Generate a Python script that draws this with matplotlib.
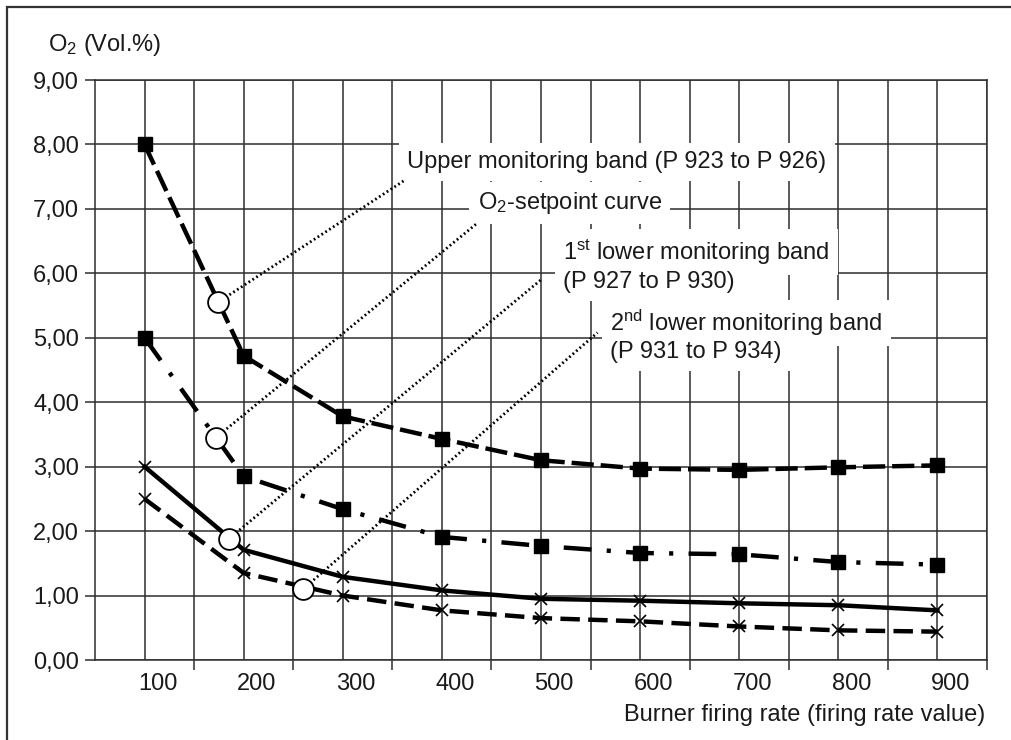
import matplotlib
matplotlib.use("Agg")
import matplotlib.pyplot as plt
import matplotlib.patches as mpatches
from matplotlib.transforms import ScaledTranslation

plt.rcParams['font.family'] = ['Liberation Sans', 'DejaVu Sans']
plt.rcParams['mathtext.fontset'] = 'custom'
plt.rcParams['mathtext.rm'] = 'Liberation Sans'
plt.rcParams['mathtext.it'] = 'Liberation Sans:italic'
plt.rcParams['lines.scale_dashes'] = False

# data
firing_rate = [100, 200, 300, 400, 500, 600, 700, 800, 900]
upper_band = [8.00, 4.72, 3.78, 3.43, 3.10, 2.97, 2.95, 2.99, 3.02]
setpoint = [5.00, 2.85, 2.34, 1.91, 1.77, 1.66, 1.64, 1.52, 1.48]
lower_band_1 = [3.00, 1.71, 1.29, 1.08, 0.95, 0.92, 0.88, 0.85, 0.77]
lower_band_2 = [2.50, 1.35, 1.00, 0.77, 0.65, 0.60, 0.52, 0.46, 0.44]

# circle anchors on each curve and where the dotted leaders end
circle_x = [174, 172, 185, 260]
circle_y = [5.55, 3.45, 1.88, 1.10]
leader_x = [362, 435, 500, 557]
leader_y = [7.44, 6.77, 5.90, 5.08]

y_ticks = [0, 1, 2, 3, 4, 5, 6, 7, 8, 9]
y_tick_labels = ["0,00", "1,00", "2,00", "3,00", "4,00", "5,00", "6,00", "7,00", "8,00", "9,00"]

ink = '#1a1a1a'
grid_col = '#2e2e2e'
fs = 17

fig = plt.figure(figsize=(10.11, 7.40), dpi=100)
ax = fig.add_axes([95/1011, 1 - 660/740, (987 - 95)/1011, (660 - 80)/740])
ax.set_xlim(50, 950)
ax.set_ylim(0, 9)

# grid
ax.set_xticks(firing_rate)
ax.set_xticklabels([str(v) for v in firing_rate])
ax.set_xticks([150, 250, 350, 450, 550, 650, 750, 850, 950], minor=True)
ax.set_yticks(y_ticks)
ax.set_yticklabels(y_tick_labels)
ax.grid(True, which='both', color=grid_col, lw=1.1, zorder=0)
ax.tick_params(axis='x', which='major', length=0, pad=9, labelsize=fs, labelcolor=ink)
ax.tick_params(axis='x', which='minor', length=7.5, width=1.1, color=grid_col, direction='out')
ax.tick_params(axis='y', length=7.5, width=1.1, color=grid_col, direction='out', pad=4,
               labelsize=fs, labelcolor=ink)
for s in ax.spines.values():
    s.set_color(grid_col)
    s.set_linewidth(1.1)
for lab in ax.get_xticklabels():
    lab.set_transform(lab.get_transform() + ScaledTranslation(0.13, 0, fig.dpi_scale_trans))

# curves
ax.plot(firing_rate, upper_band, color='black', lw=3.2, dashes=(16, 5),
        marker='s', ms=10, zorder=5)
ax.plot(firing_rate, setpoint, color='black', lw=3.2, dashes=(20, 11, 3, 11),
        marker='s', ms=10, zorder=5)
ax.plot(firing_rate, lower_band_1, color='black', lw=3.2, ls='-',
        marker='x', ms=9, mew=1.2, zorder=5)
ax.plot(firing_rate, lower_band_2, color='black', lw=3.2, dashes=(14, 6),
        marker='x', ms=9, mew=1.2, zorder=5)

# dotted leaders and circles
for cx, cy, lx, ly in zip(circle_x, circle_y, leader_x, leader_y):
    ax.plot([cx, lx], [cy, ly], color='black', lw=2.0, dashes=(1.3, 2.0), zorder=6)
ax.plot(circle_x, circle_y, ls='none', marker='o', ms=15, mfc='white', mec='black',
        mew=1.3, zorder=8)

box = dict(facecolor='white', edgecolor='none', pad=6)
ax.text(365, 7.73, "Upper monitoring band (P 923 to P 926)", fontsize=fs, color=ink,
        va='center', ha='left', bbox=box, zorder=4)
ax.text(436, 7.09, "O$_2$-setpoint curve", fontsize=fs, color=ink,
        va='center', ha='left', bbox=box, zorder=4)
ax.text(522, 6.33, "1$^{\\mathrm{st}}$ lower monitoring band", fontsize=fs, color=ink,
        va='center', ha='left', bbox=box, zorder=4)
ax.text(522, 5.87, "(P 927 to P 930)", fontsize=fs, color=ink,
        va='center', ha='left', bbox=box, zorder=4)
ax.text(570, 5.23, "2$^{\\mathrm{nd}}$ lower monitoring band", fontsize=fs, color=ink,
        va='center', ha='left', bbox=box, zorder=4)
ax.text(570, 4.78, "(P 931 to P 934)", fontsize=fs, color=ink,
        va='center', ha='left', bbox=box, zorder=4)

# axis titles
fig.text(48/1011, 1 - 45/740, "O$_2$ (Vol.%)", fontsize=fs, color=ink, ha='left', va='center')
fig.text(985/1011, 1 - 715/740, "Burner firing rate (firing rate value)", fontsize=fs,
         color=ink, ha='right', va='center')

# outer frame (cut off at right and bottom like the scan)
fig.add_artist(mpatches.Rectangle((7/1011, -0.1), 1.2, 1.1 - 7/740, transform=fig.transFigure,
                                  fill=False, lw=1.6, edgecolor='#333333'))

fig.savefig('out.png', dpi=100)
